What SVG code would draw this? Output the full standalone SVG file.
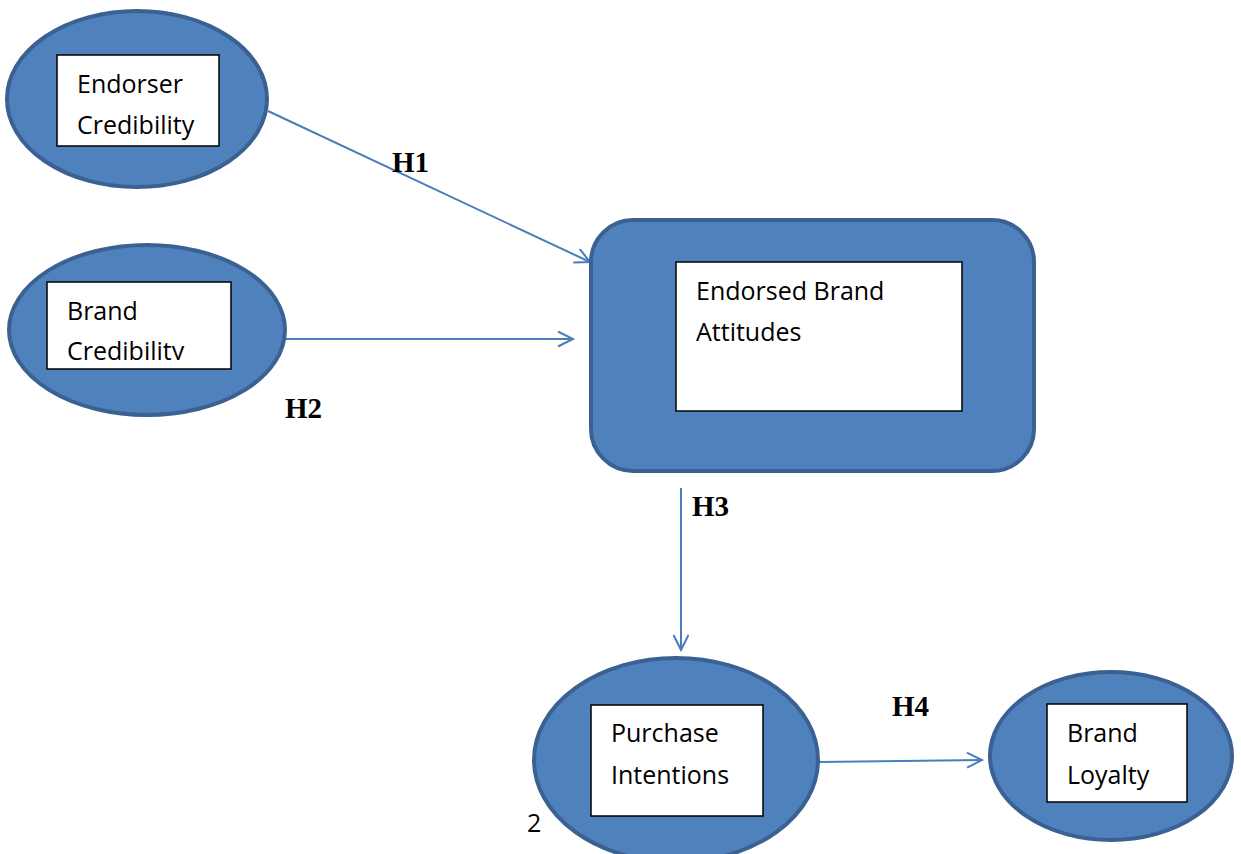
<svg xmlns="http://www.w3.org/2000/svg" width="1241" height="854" viewBox="0 0 1241 854">
<style>
.node{fill:#4F81BD;stroke:#3A6192;stroke-width:4}
.box{fill:#ffffff;stroke:#000000;stroke-width:1.5}
.t{font-family:"Open Sans","Liberation Sans",sans-serif;font-size:25px;fill:#000}
.h{font-family:"Liberation Serif","Times New Roman",serif;font-size:29px;font-weight:bold;fill:#000}
.conn{stroke:#4A7EBB;stroke-width:2;fill:none;marker-end:url(#arr)}
</style>
<defs>
<marker id="arr" markerWidth="20" markerHeight="20" refX="16" refY="8" orient="auto" markerUnits="userSpaceOnUse">
<path d="M1,0.5 L16,8 L1,15.5" fill="none" stroke="#4A7EBB" stroke-width="2"/>
</marker>
<clipPath id="clipBC"><rect x="47" y="282" width="184" height="78"/></clipPath>
</defs>
<rect width="1241" height="854" fill="#fff"/>
<g id="connectors">
<line class="conn" x1="268" y1="111" x2="590" y2="262"/>
<line class="conn" x1="286" y1="339" x2="573" y2="339"/>
<line class="conn" x1="681" y1="488" x2="681" y2="650"/>
<line class="conn" x1="819" y1="762" x2="982" y2="760"/>
</g>
<g id="endorser-credibility">
<ellipse class="node" cx="137" cy="99" rx="130" ry="88"/>
<rect class="box" x="57" y="55" width="162" height="91"/>
<text class="t" x="77" y="93">Endorser</text>
<text class="t" x="77" y="134">Credibility</text>
</g>
<g id="brand-credibility">
<ellipse class="node" cx="147" cy="330" rx="138" ry="85"/>
<rect class="box" x="47" y="282" width="184" height="87"/>
<text class="t" x="67" y="320">Brand</text>
<text class="t" x="67" y="360" clip-path="url(#clipBC)">Credibility</text>
</g>
<g id="endorsed-brand-attitudes">
<rect class="node" x="591" y="220" width="443" height="251" rx="42" ry="42"/>
<rect class="box" x="676" y="262" width="286" height="149"/>
<text class="t" x="696" y="300">Endorsed Brand</text>
<text class="t" x="696" y="341">Attitudes</text>
</g>
<g id="purchase-intentions">
<ellipse class="node" cx="676" cy="760" rx="142" ry="102"/>
<rect class="box" x="591" y="705" width="172" height="111"/>
<text class="t" x="611" y="742">Purchase</text>
<text class="t" x="611" y="784">Intentions</text>
</g>
<g id="brand-loyalty">
<ellipse class="node" cx="1111" cy="756" rx="121" ry="84"/>
<rect class="box" x="1047" y="704" width="140" height="98"/>
<text class="t" x="1067" y="742">Brand</text>
<text class="t" x="1067" y="784">Loyalty</text>
</g>
<g id="labels">
<text class="h" x="392" y="172">H1</text>
<text class="h" x="285" y="418">H2</text>
<text class="h" x="692" y="516">H3</text>
<text class="h" x="892" y="716">H4</text>
<text class="t" x="527" y="832">2</text>
</g>
</svg>
